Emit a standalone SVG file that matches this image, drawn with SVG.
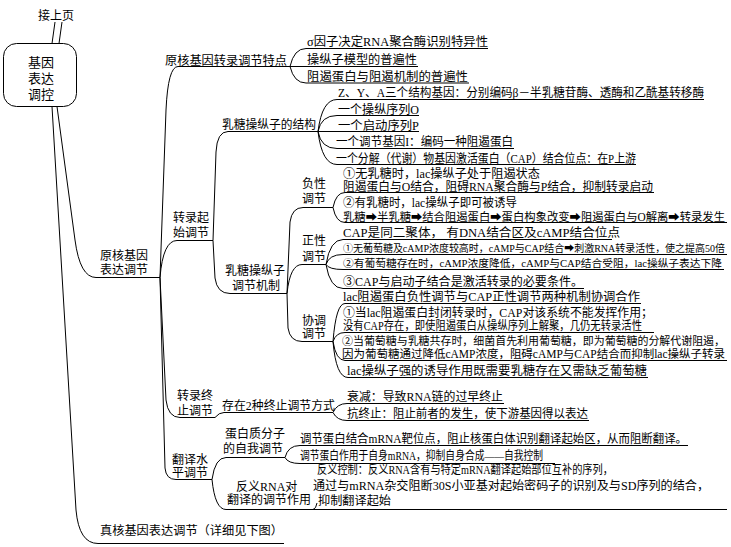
<svg xmlns="http://www.w3.org/2000/svg" width="731" height="547" viewBox="0 0 731 547">
<style>
.ln{fill:none;stroke:#000;stroke-width:1}
.t{font-family:"Liberation Serif","Noto Sans CJK SC",serif;font-size:12px;fill:#000}
.s{font-size:11.5px}
.m{font-size:11px}
.xs{font-size:10.5px}
.xxs{font-size:9.8px}
.r{font-family:"Liberation Serif","Noto Sans CJK SC",serif;font-size:13px;fill:#000;text-anchor:middle}
</style>
<rect width="731" height="547" fill="#fff"/>
<g id="connectors" class="ln">
<path d="M55 22L52 43.5M62 22L59 43.5"/>
<path d="M57 106.5L75 240Q80 277.5 96 277.5H160"/>
<path d="M52 106.5L76 510Q79 543.5 98 543.5H284"/>
<path d="M160 277.5L166 110Q168 66.5 178 66.5H290"/>
<path d="M160 277.5Q163 240.5 177 240.5H213"/>
<path d="M160 277.5L166 400Q168 417.5 180 417.5H215"/>
<path d="M160 277.5L165 468Q166 479.5 176 479.5H212"/>
<path d="M290 66.5Q294 48.5 306 48.5H488M290 66.5H418M290 66.5Q294 83 306 83H469"/>
<path d="M213 240.5L216 152Q217 131.5 228 131.5H318"/>
<path d="M213 240.5L215 278Q217 293.5 230 293.5H287"/>
<path d="M318 131.5Q322 99.5 337 99.5H704M318 131.5Q321 115.5 337 115.5H419M318 131.5H419M318 131.5Q321 148.5 337 148.5H514M318 131.5Q322 164.5 337 164.5H636"/>
<path d="M287 293.5L290 222Q292 207.5 303 207.5H333"/>
<path d="M287 293.5Q290 264.5 302 264.5H326"/>
<path d="M287 293.5L288 328Q290 341.5 302 341.5H333"/>
<path d="M333 207.5Q336 192.5 345 192.5H654M333 207.5Q336 222.5 345 222.5H727"/>
<path d="M326 264.5Q330 239.5 343 239.5H612M326 264.5Q329 254.5 343 254.5H727M326 264.5Q329 269.5 343 269.5H724M326 264.5Q330 288.5 343 288.5H584"/>
<path d="M333 341.5Q336 303.5 345 303.5H641M333 341.5Q336 332.5 345 332.5H654M333 341.5Q336 360.5 345 360.5H727M333 341.5Q336 377.5 348 377.5H648"/>
<path d="M215 417.5Q219 412.5 224 412.5H333"/>
<path d="M333 412.5Q337 403.5 347 403.5H504M333 412.5Q337 420.5 347 420.5H589"/>
<path d="M212 479.5Q215 457.5 226 457.5H285"/>
<path d="M212 479.5Q215 509.5 226 509.5H727M313 509.5Q316 509 317 503"/>
<path d="M285 457.5Q288 445.5 300 445.5H688M285 457.5Q288 463.5 300 463.5H555"/>
</g>
<g id="n-top"><text class="t" x="38" y="19.5">接上页</text></g>
<g id="n-root">
<rect x="3.5" y="43.5" width="73" height="63" rx="13" fill="#fff" stroke="#000"/>
<text class="r" x="41" y="67">基因</text>
<text class="r" x="41" y="83">表达</text>
<text class="r" x="41" y="99">调控</text>
</g>
<g id="n-prok"><text class="t" x="100" y="259.5">原核基因</text><text class="t" x="100" y="273.5">表达调节</text></g>
<g id="n-euk"><text class="t" x="100" y="535" textLength="183" lengthAdjust="spacingAndGlyphs">真核基因表达调节（详细见下图）</text></g>
<g id="n-feat"><text class="t" x="165" y="64.5" textLength="122" lengthAdjust="spacingAndGlyphs">原核基因转录调节特点</text></g>
<g id="n-feat1"><text class="t" x="307" y="46" textLength="181" lengthAdjust="spacingAndGlyphs">σ因子决定RNA聚合酶识别特异性</text></g>
<g id="n-feat2"><text class="t" x="307" y="63.5" textLength="110" lengthAdjust="spacingAndGlyphs">操纵子模型的普遍性</text></g>
<g id="n-feat3"><text class="t" x="307" y="80.5" textLength="161" lengthAdjust="spacingAndGlyphs">阻遏蛋白与阻遏机制的普遍性</text></g>
<g id="n-init"><text class="t" x="173" y="221.5">转录起</text><text class="t" x="173" y="237">始调节</text></g>
<g id="n-struct"><text class="t" x="222" y="128.5" textLength="94" lengthAdjust="spacingAndGlyphs">乳糖操纵子的结构</text></g>
<g id="n-s1"><text class="t" x="338" y="97" textLength="366" lengthAdjust="spacingAndGlyphs">Z、Y、A三个结构基因：分别编码β－半乳糖苷酶、透酶和乙酰基转移酶</text></g>
<g id="n-s2"><text class="t" x="338" y="113.5" textLength="81" lengthAdjust="spacingAndGlyphs">一个操纵序列O</text></g>
<g id="n-s3"><text class="t" x="338" y="129.5" textLength="81" lengthAdjust="spacingAndGlyphs">一个启动序列P</text></g>
<g id="n-s4"><text class="t" x="336" y="146" textLength="177" lengthAdjust="spacingAndGlyphs">一个调节基因I：编码一种阻遏蛋白</text></g>
<g id="n-s5"><text class="t" x="336" y="162.5" textLength="300" lengthAdjust="spacingAndGlyphs">一个分解（代谢）物基因激活蛋白（CAP）结合位点：在P上游</text></g>
<g id="n-mech"><text class="t" x="225" y="274.5">乳糖操纵子</text><text class="t" x="232" y="289.5">调节机制</text></g>
<g id="n-neg"><text class="t" x="302" y="188">负性</text><text class="t" x="302" y="203">调节</text></g>
<g id="n-neg1"><text class="t" x="343" y="177.5" textLength="197" lengthAdjust="spacingAndGlyphs">①无乳糖时，lac操纵子处于阻遏状态</text><text class="t" x="343" y="190.5" textLength="310" lengthAdjust="spacingAndGlyphs">阻遏蛋白与O结合，阻碍RNA聚合酶与P结合，抑制转录启动</text></g>
<g id="n-neg2"><text class="t" x="343" y="207" textLength="174" lengthAdjust="spacingAndGlyphs">②有乳糖时，lac操纵子即可被诱导</text><text class="t s" x="343" y="220.5" textLength="382" lengthAdjust="spacingAndGlyphs">乳糖➡半乳糖➡结合阻遏蛋白➡蛋白构象改变➡阻遏蛋白与O解离➡转录发生</text></g>
<g id="n-pos"><text class="t" x="302" y="245">正性</text><text class="t" x="302" y="260.5">调节</text></g>
<g id="n-pos1"><text class="t" x="343" y="237" textLength="277" lengthAdjust="spacingAndGlyphs">CAP是同二聚体， 有DNA结合区及cAMP结合位点</text></g>
<g id="n-pos2"><text class="t xxs" x="343" y="252" textLength="382" lengthAdjust="spacingAndGlyphs">①无葡萄糖及cAMP浓度较高时，cAMP与CAP结合➡刺激RNA转录活性，使之提高50倍</text></g>
<g id="n-pos3"><text class="t xs" x="343" y="267" textLength="379" lengthAdjust="spacingAndGlyphs">②有葡萄糖存在时，cAMP浓度降低，cAMP与CAP结合受阻，lac操纵子表达下降</text></g>
<g id="n-pos4"><text class="t" x="343" y="285.5" textLength="240" lengthAdjust="spacingAndGlyphs">③CAP与启动子结合是激活转录的必要条件。</text></g>
<g id="n-coo"><text class="t" x="302" y="324.5">协调</text><text class="t" x="302" y="338">调节</text></g>
<g id="n-coo1"><text class="t" x="343" y="301" textLength="297" lengthAdjust="spacingAndGlyphs">lac阻遏蛋白负性调节与CAP正性调节两种机制协调合作</text></g>
<g id="n-coo2"><text class="t" x="343" y="317" textLength="310" lengthAdjust="spacingAndGlyphs">①当lac阻遏蛋白封闭转录时，CAP对该系统不能发挥作用；</text><text class="t" x="343" y="330" textLength="299" lengthAdjust="spacingAndGlyphs">没有CAP存在，即使阻遏蛋白从操纵序列上解聚，几仍无转录活性</text></g>
<g id="n-coo3"><text class="t m" x="342" y="345" textLength="383" lengthAdjust="spacingAndGlyphs">②当葡萄糖与乳糖共存时，细菌首先利用葡萄糖，即为葡萄糖的分解代谢阻遏，</text><text class="t s" x="342" y="358" textLength="383" lengthAdjust="spacingAndGlyphs">因为葡萄糖通过降低cAMP浓度，阻碍cAMP与CAP结合而抑制lac操纵子转录</text></g>
<g id="n-coo4"><text class="t" x="347" y="374.5" textLength="300" lengthAdjust="spacingAndGlyphs">lac操纵子强的诱导作用既需要乳糖存在又需缺乏葡萄糖</text></g>
<g id="n-term"><text class="t" x="177" y="399.5">转录终</text><text class="t" x="177" y="414.5">止调节</text></g>
<g id="n-term0"><text class="t" x="222" y="410" textLength="113" lengthAdjust="spacingAndGlyphs">存在2种终止调节方式</text></g>
<g id="n-term1"><text class="t" x="347" y="401" textLength="156" lengthAdjust="spacingAndGlyphs">衰减：导致RNA链的过早终止</text></g>
<g id="n-term2"><text class="t" x="347" y="418" textLength="241" lengthAdjust="spacingAndGlyphs">抗终止：阻止前者的发生，使下游基因得以表达</text></g>
<g id="n-trans"><text class="t" x="172" y="463.5">翻译水</text><text class="t" x="172" y="476.5">平调节</text></g>
<g id="n-self"><text class="t" x="225" y="437.5">蛋白质分子</text><text class="t" x="223" y="452.5">的自我调节</text></g>
<g id="n-self1"><text class="t" x="300" y="443" textLength="387" lengthAdjust="spacingAndGlyphs">调节蛋白结合mRNA靶位点，阻止核蛋白体识别翻译起始区，从而阻断翻译。</text></g>
<g id="n-self2"><text class="t" x="300" y="460" textLength="243" lengthAdjust="spacingAndGlyphs">调节蛋白作用于自身mRNA，抑制自身合成——自我控制</text></g>
<g id="n-anti"><text class="t" x="236" y="490.5">反义RNA对</text><text class="t" x="227" y="504">翻译的调节作用</text></g>
<g id="n-anti1"><text class="t" x="317" y="473.5" textLength="296" lengthAdjust="spacingAndGlyphs">反义控制：反义RNA含有与特定mRNA翻译起始部位互补的序列，</text><text class="t" x="313" y="489.5" textLength="396" lengthAdjust="spacingAndGlyphs">通过与mRNA杂交阻断30S小亚基对起始密码子的识别及与SD序列的结合，</text><text class="t" x="318" y="505" textLength="73" lengthAdjust="spacingAndGlyphs">抑制翻译起始</text></g>
</svg>
